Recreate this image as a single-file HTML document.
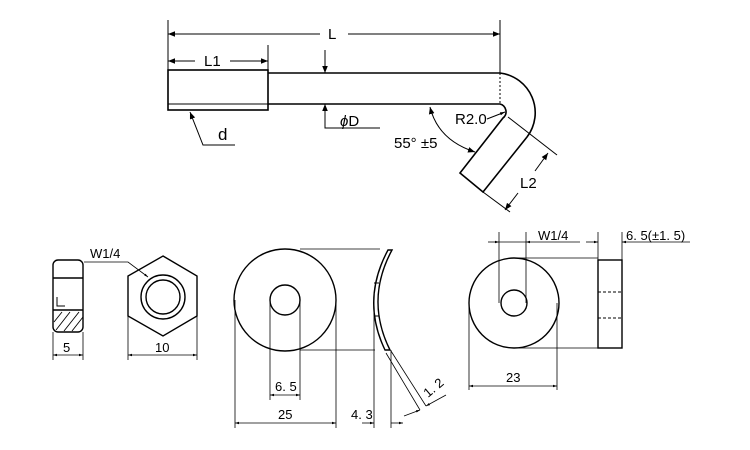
<!DOCTYPE html>
<html><head><style>body{margin:0;background:#fff}svg{display:block}text{font-family:"Liberation Sans",sans-serif;fill:#000}</style></head><body>
<svg width="750" height="450" viewBox="0 0 750 450" xmlns="http://www.w3.org/2000/svg">
<defs><marker id="a" viewBox="0 0 10 10" refX="10" refY="5" markerWidth="7" markerHeight="7" orient="auto-start-reverse"><path d="M0,1 L10,5 L0,9z" fill="#000"/></marker>
<marker id="s" viewBox="0 0 10 10" refX="10" refY="5" markerWidth="5" markerHeight="5" orient="auto-start-reverse"><path d="M0,2 L10,5 L0,8z" fill="#000"/></marker></defs>
<g stroke="#000" fill="none" stroke-width="1.6">
<rect x="168" y="70" width="100" height="40"/>
<line x1="168" y1="104" x2="268" y2="104" stroke-width="1"/>
<path d="M268,73 H500 A40,40 0 0 1 527,137 L483,192 L460,173 L503,118 A8,8 0 0 0 500,104 H268"/>
</g>
<g stroke="#000" fill="none" stroke-width="1">
<line x1="168" y1="20" x2="168" y2="70"/><line x1="500" y1="20" x2="500" y2="73"/>
<line x1="500" y1="73" x2="500" y2="104" stroke-dasharray="2,2"/>
<line x1="268" y1="45" x2="268" y2="70"/>
<line x1="168" y1="34" x2="320" y2="34" marker-start="url(#a)"/><line x1="348" y1="34" x2="500" y2="34" marker-end="url(#a)"/>
<line x1="168" y1="61" x2="195" y2="61" marker-start="url(#a)"/><line x1="230" y1="61" x2="268" y2="61" marker-end="url(#a)"/>
<line x1="325" y1="50" x2="325" y2="73" marker-end="url(#a)"/>
<polyline points="380,128 325,128 325,104" marker-end="url(#a)"/>
<polyline points="235,145 203,145 190,112" marker-end="url(#a)"/>
<path d="M430,107 Q438,140 475,152" marker-start="url(#a)" marker-end="url(#a)"/>
<line x1="487" y1="119" x2="505" y2="112" marker-end="url(#s)"/>
<line x1="508" y1="117" x2="557" y2="155"/><line x1="483" y1="192" x2="510" y2="212"/>
<line x1="548" y1="153" x2="535" y2="171" marker-start="url(#a)"/><line x1="518" y1="193" x2="505" y2="210" marker-end="url(#a)"/>
</g>
<g font-size="15"><text x="328" y="39">L</text><text x="204" y="66">L1</text><text x="340" y="126"><tspan font-style="italic">ϕ</tspan>D</text><text x="218" y="140" font-size="17">d</text><text x="394" y="148">55° ±5</text><text x="455" y="124">R2.0</text><text x="520" y="188">L2</text></g>
<g stroke="#000" fill="none" stroke-width="1.4">
<rect x="53" y="260" width="30" height="72" rx="5"/>
<line x1="53" y1="278" x2="83" y2="278"/><line x1="53" y1="310" x2="83" y2="310"/>
<polyline points="57,297 57,306 65,306" stroke-width="1"/>
<g stroke-width="0.9"><line x1="56" y1="330" x2="70" y2="312"/><line x1="64" y1="331" x2="79" y2="312"/><line x1="72" y1="331" x2="83" y2="317"/><line x1="54" y1="322" x2="62" y2="312"/></g>
<polygon points="163,256 197,276 197,316 163,336 128,316 128,276"/>
<circle cx="163" cy="297" r="22"/><circle cx="163" cy="297" r="17"/>
<circle cx="285" cy="300" r="51"/><circle cx="285" cy="300" r="15"/>
<path d="M388,250 H392 Q365,300 390,350 H385 Q361,300 388,250Z"/>
<line x1="374" y1="283" x2="379" y2="283" stroke-width="1"/><line x1="374" y1="316" x2="379" y2="316" stroke-width="1"/>
<circle cx="514" cy="303" r="45"/><circle cx="514" cy="303" r="13"/>
<rect x="598" y="260" width="24" height="88"/>
<line x1="598" y1="292" x2="622" y2="292" stroke-dasharray="3,2" stroke-width="1"/><line x1="598" y1="318" x2="622" y2="318" stroke-dasharray="3,2" stroke-width="1"/>
</g>
<g stroke="#000" fill="none" stroke-width="0.8">
<line x1="53" y1="332" x2="53" y2="360"/><line x1="83" y1="332" x2="83" y2="360"/>
<line x1="53" y1="355" x2="83" y2="355" marker-start="url(#s)" marker-end="url(#s)"/>
<line x1="128" y1="316" x2="128" y2="360"/><line x1="197" y1="316" x2="197" y2="360"/>
<line x1="128" y1="355" x2="197" y2="355" marker-start="url(#s)" marker-end="url(#s)"/>
<polyline points="84,262 128,262 148,277" marker-end="url(#s)"/>
<line x1="300" y1="249" x2="380" y2="249"/><line x1="300" y1="350" x2="375" y2="350"/>
<line x1="270" y1="300" x2="270" y2="400"/><line x1="300" y1="300" x2="300" y2="400"/>
<line x1="270" y1="395" x2="300" y2="395" marker-start="url(#s)" marker-end="url(#s)"/>
<line x1="235" y1="300" x2="235" y2="428"/><line x1="336" y1="300" x2="336" y2="428"/>
<line x1="235" y1="423" x2="336" y2="423" marker-start="url(#s)" marker-end="url(#s)"/>
<line x1="374" y1="300" x2="374" y2="428"/><line x1="391" y1="350" x2="391" y2="428"/>
<line x1="362" y1="423" x2="374" y2="423" marker-end="url(#s)"/><line x1="403" y1="423" x2="391" y2="423" marker-start="url(#s)"/>
<line x1="386" y1="353" x2="420" y2="410"/><line x1="391" y1="351" x2="426" y2="406"/>
<line x1="404" y1="416" x2="420" y2="410" marker-end="url(#s)"/><line x1="446" y1="395" x2="426" y2="406" marker-end="url(#s)"/>
<line x1="499" y1="232" x2="499" y2="303"/><line x1="526" y1="232" x2="526" y2="303"/>
<line x1="488" y1="242" x2="499" y2="242" marker-end="url(#s)"/><line x1="499" y1="242" x2="526" y2="242"/><line x1="580" y1="242" x2="526" y2="242" marker-end="url(#s)"/>
<line x1="598" y1="232" x2="598" y2="260"/><line x1="622" y1="232" x2="622" y2="260"/>
<line x1="586" y1="242" x2="598" y2="242" marker-end="url(#s)"/><line x1="690" y1="242" x2="622" y2="242" marker-end="url(#s)"/>
<line x1="514" y1="258" x2="598" y2="258"/><line x1="514" y1="348" x2="598" y2="348"/>
<line x1="469" y1="303" x2="469" y2="390"/><line x1="557" y1="303" x2="557" y2="390"/>
<line x1="469" y1="386" x2="557" y2="386" marker-start="url(#s)" marker-end="url(#s)"/>
</g>
<g font-size="13"><text x="90" y="258">W1/4</text><text x="63" y="352">5</text><text x="155" y="352">10</text><text x="275" y="391">6. 5</text><text x="278" y="419">25</text><text x="351" y="419">4. 3</text><text x="428" y="398" transform="rotate(-40 428 398)">1. 2</text><text x="538" y="240">W1/4</text><text x="626" y="240">6. 5(±1. 5)</text><text x="506" y="382">23</text></g>
</svg>
</body></html>
